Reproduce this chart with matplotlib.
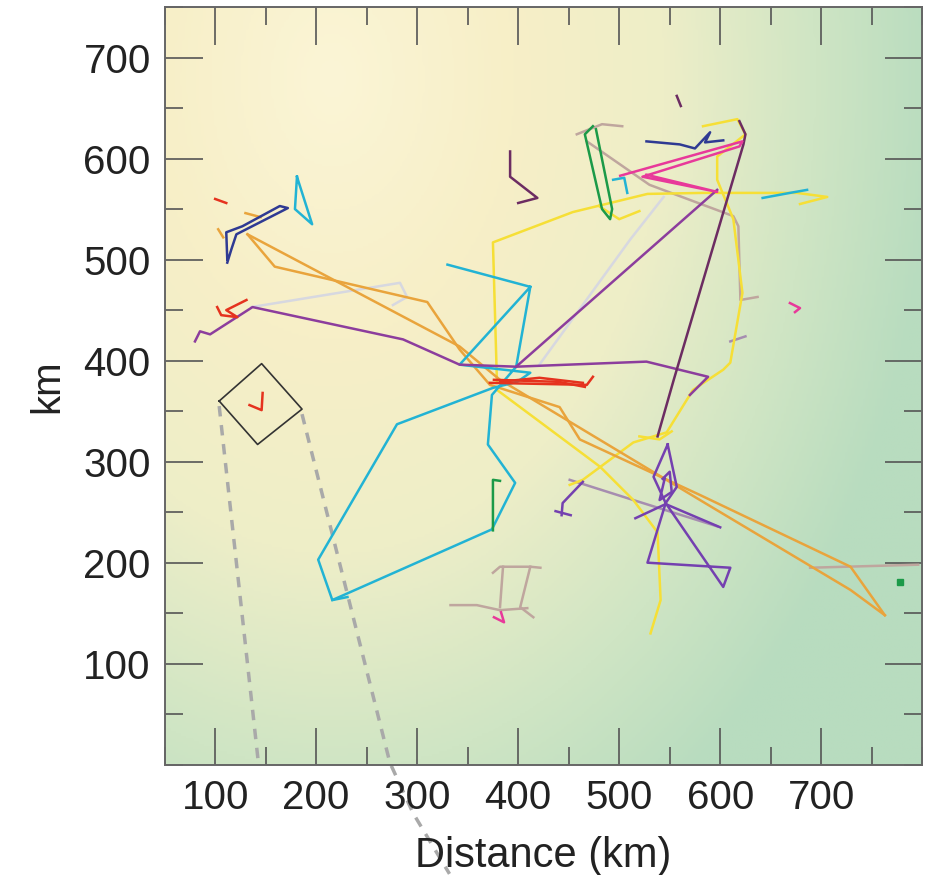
import numpy as np
import matplotlib.pyplot as plt
from matplotlib.colors import LinearSegmentedColormap
from matplotlib.ticker import MultipleLocator

plt.rcParams['font.family'] = ['Liberation Sans', 'DejaVu Sans']

# tracks in km (x, y)
orange_tracks = [
    ([132, 159, 310, 342, 372, 441, 461, 580, 729, 763], [525, 493, 458, 411, 376, 354, 322, 267, 196, 148]),
    ([132, 342, 382, 580, 729, 763], [525, 414, 381, 262, 173, 148]),
    ([130, 145], [546, 542]),
    ([103, 108], [530, 522]),
]
purple_tracks = [
    ([80, 85, 95, 137, 286, 342, 398, 527, 588, 570], [419, 429, 426, 453, 421, 396, 394, 399, 384, 366]),
    ([398, 597], [394, 569]),
]
plum_tracks = [
    ([619, 625, 623, 554, 538], [637, 624, 614, 381, 325]),
    ([392, 392, 419, 400], [607, 582, 561, 556]),
    ([557, 561], [662, 652]),
]
yellow_tracks = [
    ([379, 375, 454, 528, 583, 676, 706, 679], [378, 517, 547, 565, 566, 566, 562, 555]),
    ([583, 617, 625, 597, 597, 613, 622, 610, 603, 573, 547, 514, 464, 451],
     [632, 639, 624, 602, 579, 540, 467, 398, 391, 371, 329, 319, 282, 277]),
    ([379, 422, 481, 514, 538, 541, 531], [371, 339, 295, 262, 230, 163, 130]),
    ([480, 500, 520], [553, 540, 548]),
    ([520, 540, 552], [325, 322, 330]),
]
cyan_tracks = [
    ([330, 412, 342, 412, 399, 375, 280, 202, 216, 374, 397, 370, 374, 398, 412],
     [495, 473, 396, 388, 379, 373, 337, 203, 163, 233, 279, 317, 366, 394, 473]),
    ([216, 231], [163, 166]),
    ([181, 179, 196, 181], [582, 550, 535, 582]),
    ([494, 505, 508], [579, 581, 566]),
    ([642, 669, 686], [561, 566, 569]),
]
red_tracks = [
    ([100, 111], [560, 556]),
    ([102, 106, 122, 111, 131], [453, 445, 443, 450, 460]),
    ([372, 468, 474], [378, 376, 384]),
    ([382, 421, 464], [379, 383, 378]),
    ([376, 440, 466], [381, 379, 374]),
    ([134, 146, 147], [356, 351, 368]),
]
navy_tracks = [
    ([112, 111, 127, 164, 172, 121, 116, 112], [500, 527, 533, 553, 551, 525, 510, 497]),
    ([527, 560, 575, 590, 585, 603], [617, 614, 610, 626, 616, 618]),
]
green_tracks = [
    ([474, 466, 483, 491, 493, 477], [632, 624, 550, 540, 550, 629]),
    ([382, 375, 375], [281, 282, 232]),
]
green_dot = (778, 181)
pink_tracks = [
    ([501, 622, 619, 523, 597, 527], [583, 617, 612, 582, 567, 584]),
    ([669, 679, 674], [457, 452, 448]),
    ([376, 386, 383], [146, 141, 151]),
]
light_tracks = [
    ([136, 283, 290, 276], [453, 477, 463, 455]),
    ([421, 511, 544], [396, 520, 562]),
]
tan_tracks = [
    ([458, 483, 503], [624, 634, 632]),
    ([468, 530, 613, 618, 620, 637], [617, 574, 543, 533, 460, 463]),
    ([375, 382, 412, 422], [190, 196, 196, 195]),
    ([385, 382], [196, 156]),
    ([412, 402, 415], [196, 156, 146]),
    ([333, 359, 382, 409], [158, 158, 153, 155]),
    ([689, 796], [195, 198]),
]
mauve_tracks = [
    ([451, 514, 597], [282, 262, 236]),
    ([610, 625], [419, 424]),
]
violet_tracks = [
    ([548, 534, 546, 557, 548], [317, 285, 259, 275, 317]),
    ([543, 550, 552, 540, 545], [283, 290, 270, 262, 283]),
    ([546, 528, 610, 603, 546], [259, 200, 195, 176, 259]),
    ([516, 546, 600], [244, 258, 235]),
    ([464, 444, 443], [280, 259, 247]),
    ([437, 452], [251, 247]),
]

# inset box and its guide lines
box_x = [104, 146, 186, 142, 104]
box_y = [360, 397, 352, 317, 360]
guide_left_x = [104, 143]
guide_left_y = [355, 0]
guide_right_x = [186, 273, 296, 332]
guide_right_y = [347, 2, -48, -108]

fig = plt.figure(figsize=(9.25, 8.75), dpi=100)
ax = fig.add_axes([0.178, 0.126, 0.819, 0.866])

# background gradient
gx = np.linspace(50, 800, 300)
gy = np.linspace(0, 750, 300)
GX, GY = np.meshgrid(gx, gy)
d = np.sqrt(((GX - 215) / 500) ** 2 + ((GY - 680) / 715) ** 2)
cmap = LinearSegmentedColormap.from_list('bg', [
    (0.0, '#fbf5d6'), (0.3, '#f7efc7'), (0.55, '#eeeec8'),
    (0.8, '#cfe5c4'), (1.0, '#b8dcbf')])
ax.imshow(np.clip(d / 1.2, 0, 1), cmap=cmap, extent=[50, 800, 0, 750],
          origin='lower', aspect='auto', zorder=0, vmin=0, vmax=1)

groups = [
    (light_tracks, '#d7d8e0'),
    (tan_tracks, '#bfa69e'),
    (mauve_tracks, '#a68db0'),
    (yellow_tracks, '#f6df36'),
    (orange_tracks, '#e9a43c'),
    (cyan_tracks, '#22b3d4'),
    (purple_tracks, '#8c3d9d'),
    (plum_tracks, '#6c2c62'),
    (violet_tracks, '#7440b0'),
    (navy_tracks, '#2f3a93'),
    (green_tracks, '#1b9a48'),
    (pink_tracks, '#e8399a'),
    (red_tracks, '#e5321e'),
]
for tracks, col in groups:
    for tx, ty in tracks:
        ax.plot(tx, ty, color=col, lw=1.8, solid_joinstyle='round', zorder=2)

ax.plot(*green_dot, marker='s', ms=4, color='#1b9a48', zorder=3)

ax.plot(box_x, box_y, color='#333333', lw=1.2, zorder=3)
ax.plot(guide_left_x, guide_left_y, color='#a9a9a9', lw=2.5, ls=(0, (3, 2.5)), zorder=1)
ax.plot(guide_right_x, guide_right_y, color='#a9a9a9', lw=2.5, ls=(0, (3, 2.5)),
        zorder=1, clip_on=False)

ax.set_xlim(50, 800)
ax.set_ylim(0, 750)
ax.xaxis.set_minor_locator(MultipleLocator(50))
ax.yaxis.set_minor_locator(MultipleLocator(50))
ax.set_xticks([100, 200, 300, 400, 500, 600, 700])
ax.set_yticks([100, 200, 300, 400, 500, 600, 700])
ax.tick_params(which='both', direction='in', top=True, right=True,
               color='#555555', width=1.2, labelsize=29, labelcolor='#222222')
ax.tick_params(which='major', length=27, pad=10)
ax.tick_params(which='minor', length=13)
for s in ax.spines.values():
    s.set_color('#666666')
    s.set_linewidth(1.4)

ax.set_xlabel('Distance (km)', fontsize=30, color='#222222', labelpad=14)
ax.set_ylabel('km', fontsize=29, color='#222222', labelpad=12)

fig.savefig('out.png', dpi=100)
